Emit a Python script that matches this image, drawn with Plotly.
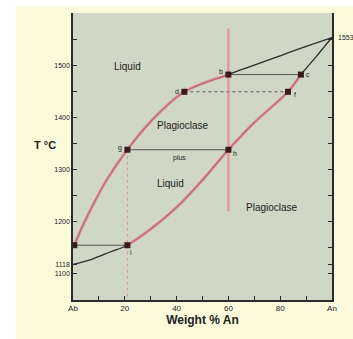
import plotly.graph_objects as go

# Liquidus (upper curve), wt% An vs T
liq_x = [0, 0.5, 4, 8, 13, 21, 30, 43, 60, 70, 80, 90, 100]
liq_T = [1118, 1155, 1195, 1235, 1280, 1338, 1392, 1449, 1482, 1500, 1518, 1536, 1553]
# Solidus (lower curve)
sol_x = [0, 7.7, 14.3, 21, 30, 40.5, 50, 60, 70, 83, 88, 94, 100]
sol_T = [1118, 1129, 1142, 1155, 1186, 1230, 1280, 1338, 1390, 1449, 1482, 1517, 1553]

# highlighted (pink) portions
liq_pink_x = [0.5, 4, 8, 13, 21, 30, 43, 60]
liq_pink_T = [1155, 1195, 1235, 1280, 1338, 1392, 1449, 1482]
sol_pink_x = [21, 30, 40.5, 50, 60, 70, 83, 88]
sol_pink_T = [1155, 1186, 1230, 1280, 1338, 1390, 1449, 1482]

# bulk composition path
bulk_x = [60, 60]
bulk_T = [1570, 1220]

# labelled points
pt_names = ["b", "c", "d", "f", "g", "h", "i", ""]
pt_x = [60, 88, 43, 83, 21, 60, 21, 0.5]
pt_T = [1482, 1482, 1449, 1449, 1338, 1338, 1155, 1155]

# tie lines
tie_solid = [([60, 88], [1482, 1482]), ([21, 60], [1338, 1338]), ([0, 21], [1155, 1155])]
tie_dot = [([43, 83], [1449, 1449])]

x_tickvals = [0, 20, 40, 60, 80, 100]
x_ticktext = ["Ab", "20", "40", "60", "80", "An"]
y_tickvals = [1100, 1118, 1200, 1300, 1400, 1500]
y_ticktext = ["1100", "1118", "1200", "1300", "1400", "1500"]

region_labels = [
    ("Liquid", 21, 1498, 10),
    ("Plagioclase", 42.5, 1384, 10),
    ("plus", 41, 1323, 7),
    ("Liquid", 37.5, 1273, 10),
    ("Plagioclase", 77, 1228, 10),
]

pink = "rgba(232,128,146,0.75)"
dark = "#2b2b2b"
font_family = "Liberation Sans, Arial"

fig = go.Figure()

fig.add_trace(go.Scatter(x=liq_x[1:], y=liq_T[1:], mode="lines",
                         line=dict(color=dark, width=1.3, shape="spline"), hoverinfo="skip"))
fig.add_trace(go.Scatter(x=sol_x, y=sol_T, mode="lines",
                         line=dict(color=dark, width=1.3, shape="spline"), hoverinfo="skip"))

# vertical dotted at g
fig.add_trace(go.Scatter(x=[21, 21], y=[1338, 1050], mode="lines",
                         line=dict(color="rgba(220,130,140,0.8)", width=1, dash="dot"), hoverinfo="skip"))

for xs, ys in tie_solid:
    fig.add_trace(go.Scatter(x=xs, y=ys, mode="lines", line=dict(color="#555", width=1), hoverinfo="skip"))
for xs, ys in tie_dot:
    fig.add_trace(go.Scatter(x=xs, y=ys, mode="lines", line=dict(color="#555", width=1, dash="dot"), hoverinfo="skip"))

# pink overlays
fig.add_trace(go.Scatter(x=liq_pink_x, y=liq_pink_T, mode="lines",
                         line=dict(color=pink, width=3, shape="spline"), hoverinfo="skip"))
fig.add_trace(go.Scatter(x=sol_pink_x, y=sol_pink_T, mode="lines",
                         line=dict(color=pink, width=3, shape="spline"), hoverinfo="skip"))
fig.add_trace(go.Scatter(x=bulk_x, y=bulk_T, mode="lines", line=dict(color=pink, width=2.5), hoverinfo="skip"))

# points
fig.add_trace(go.Scatter(x=pt_x, y=pt_T, mode="markers",
                         marker=dict(color="#3a1a1a", size=6, symbol="square"), hoverinfo="skip"))

offsets = {"b": (-7, 3), "c": (7, 0), "d": (-7, 0), "f": (7, -3), "g": (-7, 2), "h": (7, -4), "i": (4, -7)}
for n, x, y in zip(pt_names, pt_x, pt_T):
    if not n:
        continue
    dx, dy = offsets[n]
    fig.add_annotation(x=x, y=y, text=n, showarrow=False, xshift=dx, yshift=dy,
                       font=dict(family=font_family, size=7, color="#222"))

for t, x, y, s in region_labels:
    fig.add_annotation(x=x, y=y, text=t, showarrow=False,
                       font=dict(family=font_family, size=s, color="#222"))

fig.add_annotation(x=100, y=1553, text="1553", showarrow=False, xanchor="left", xshift=4,
                   font=dict(family=font_family, size=7, color="#222"))

fig.add_annotation(xref="paper", yref="paper", x=-0.16, y=0.54, text="<b>T °C</b>", showarrow=False,
                   font=dict(family=font_family, size=11, color="#222"))

# white strips at left and top edges of the page
fig.add_shape(type="rect", xref="paper", yref="paper", x0=-0.3, x1=-0.22, y0=-0.2, y1=1.1,
              fillcolor="white", line=dict(width=0), layer="above")
fig.add_shape(type="rect", xref="paper", yref="paper", x0=-0.3, x1=1.2, y0=1.023, y1=1.1,
              fillcolor="white", line=dict(width=0), layer="above")

fig.update_layout(
    width=353, height=339,
    margin=dict(l=73, r=21, t=13, b=39),
    paper_bgcolor="#fbfbdc",
    plot_bgcolor="#d0d7c4",
    showlegend=False,
    xaxis=dict(range=[0, 100], tickvals=x_tickvals, ticktext=x_ticktext, ticks="inside", ticklen=4,
               tickcolor=dark, showline=True, linecolor=dark, linewidth=1.5, showgrid=False, zeroline=False,
               minor=dict(dtick=10, tick0=0, ticks="inside", ticklen=4, tickcolor=dark, showgrid=False),
               tickfont=dict(family=font_family, size=8, color="#222"),
               title=dict(text="<b>Weight % An</b>", standoff=2,
                          font=dict(family=font_family, size=12, color="#222"))),
    yaxis=dict(range=[1050, 1600], tickvals=y_tickvals, ticktext=y_ticktext, ticks="inside", ticklen=4,
               tickcolor=dark, showline=True, linecolor=dark, linewidth=1.5, mirror="ticks",
               showgrid=False, zeroline=False,
               minor=dict(dtick=50, tick0=1050, ticks="inside", ticklen=4, tickcolor=dark, showgrid=False),
               tickfont=dict(family=font_family, size=7, color="#222")),
)

fig.write_html("out.html", config={"displayModeBar": False},
               post_script="document.body.style.margin='0';")
